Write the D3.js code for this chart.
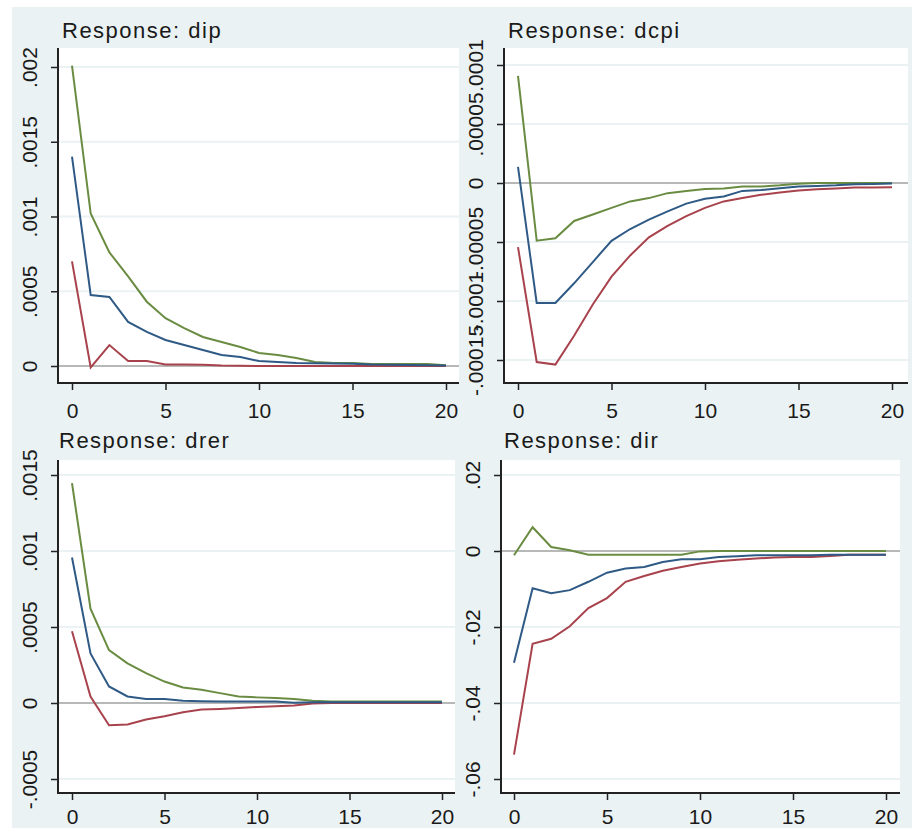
<!DOCTYPE html>
<html>
<head>
<meta charset="utf-8">
<script src="https://cdn.jsdelivr.net/npm/d3@7"></script>
<style>
  body { margin: 0; background: #fff; }
  svg { display: block; font-family: "Liberation Sans", Arial, sans-serif; }
</style>
</head>
<body>
<script>
// horizons 0..20
const steps = d3.range(0, 21);

// Response: dip
const dipUpper = [0.00201, 0.00102, 0.00076, 0.00060, 0.00043, 0.00032, 0.000254, 0.000194, 0.000161, 0.000127, 0.000087, 0.000074, 0.000054, 0.000027, 0.00002, 0.00002, 0.000013, 0.000013, 0.000013, 0.000013, 0.000005];
const dipIrf = [0.0014, 0.000475, 0.000462, 0.000295, 0.000228, 0.000174, 0.000141, 0.000107, 0.000074, 0.00006, 0.000033, 0.000027, 0.00002, 0.000018, 0.000016, 0.000015, 0.00001, 0.000008, 0.000006, 0.000005, 0.000004];
const dipLower = [0.0007, -0.00001, 0.00014, 0.000033, 0.000033, 0.00001, 0.00001, 0.000008, 0.000003, 0.000002, 0, 0, 0, 0, 0, 0, 0, 0, 0, 0, 0];

// Response: dcpi
const dcpiUpper = [0.0000908, -0.0000489, -0.0000469, -0.0000322, -0.0000267, -0.0000211, -0.0000156, -0.0000128, -0.0000086, -0.0000067, -0.000005, -0.0000047, -0.000003, -0.000003, -0.000002, -0.0000006, 0, 0, 0, 0, 0];
const dcpiIrf = [0.0000136, -0.0001017, -0.0001017, -0.000085, -0.000067, -0.000049, -0.000039, -0.000031, -0.000024, -0.0000175, -0.0000133, -0.0000114, -0.0000067, -0.000006, -0.0000044, -0.000003, -0.0000025, -0.000002, -0.0000011, -0.0000008, -0.0000005];
const dcpiLower = [-0.0000544, -0.0001517, -0.0001539, -0.0001294, -0.000103, -0.0000794, -0.0000614, -0.0000461, -0.0000364, -0.000028, -0.0000211, -0.0000156, -0.0000128, -0.00001, -0.000008, -0.0000064, -0.0000053, -0.0000047, -0.0000039, -0.0000038, -0.0000036];

// Response: drer
const drerUpper = [0.001446, 0.00062, 0.000348, 0.000261, 0.000196, 0.000141, 0.000102, 0.000087, 0.000065, 0.000043, 0.000037, 0.000033, 0.000026, 0.000015, 0.00001, 0.00001, 0.00001, 0.00001, 0.00001, 0.00001, 0.00001];
const drerIrf = [0.000957, 0.000326, 0.000109, 0.000043, 0.000026, 0.000026, 0.000015, 0.000012, 0.00001, 0.00001, 0.00001, 0.00001, 0.000002, 0.000005, 0.000005, 0.000005, 0.000005, 0.000005, 0.000005, 0.000005, 0.000005];
const drerLower = [0.000472, 0.000043, -0.000146, -0.000141, -0.000109, -0.000087, -0.000061, -0.000043, -0.000039, -0.000033, -0.000026, -0.000022, -0.000017, -0.000003, 0, 0, 0, 0, 0, 0, 0];

// Response: dir
const dirUpper = [-0.0011, 0.00626, 0.00104, 0.00017, -0.00096, -0.001, -0.001, -0.001, -0.001, -0.001, -0.0001, 0, 0, 0, 0, 0, 0, 0, 0, 0, 0];
const dirIrf = [-0.0294, -0.0098, -0.0111, -0.0103, -0.0081, -0.0057, -0.0046, -0.0042, -0.0029, -0.0022, -0.0022, -0.0016, -0.0014, -0.0011, -0.0011, -0.0011, -0.0011, -0.001, -0.001, -0.001, -0.001];
const dirLower = [-0.0536, -0.0244, -0.0231, -0.0198, -0.015, -0.0124, -0.0081, -0.0066, -0.0052, -0.0042, -0.0033, -0.0027, -0.0023, -0.002, -0.0017, -0.0016, -0.0016, -0.0013, -0.001, -0.001, -0.001];

// tick values / labels
const xTicks = [0, 5, 10, 15, 20];
const dipTicks = [0, 0.0005, 0.001, 0.0015, 0.002];
const dipLabels = ['0', '.0005', '.001', '.0015', '.002'];
const dcpiTicks = [-0.00015, -0.0001, -0.00005, 0, 0.00005, 0.0001];
const dcpiLabels = ['-.00015', '-.0001', '-.00005', '0', '.00005', '.0001'];
const drerTicks = [-0.0005, 0, 0.0005, 0.001, 0.0015];
const drerLabels = ['-.0005', '0', '.0005', '.001', '.0015'];
const dirTicks = [-0.06, -0.04, -0.02, 0, 0.02];
const dirLabels = ['-.06', '-.04', '-.02', '0', '.02'];

const W = 912, H = 828;
const colUpper = '#6a8c42', colIrf = '#2f5a86', colLower = '#a8434d';
const bg = '#eaf2f3';

const svg = d3.select('body').append('svg')
    .attr('width', W)
    .attr('height', H);

svg.append('rect')
    .attr('x', 12).attr('y', 7)
    .attr('width', W - 12).attr('height', H - 7)
    .attr('fill', bg);

const panels = [
  { title: 'Response: dip', upper: dipUpper, irf: dipIrf, lower: dipLower,
    ticks: dipTicks, labels: dipLabels, box: [58, 48, 459, 383],
    xr: [72, 446], yd: [0, 0.002], yr: [366, 67], tx: 62, ty: 38, lx: 20 },
  { title: 'Response: dcpi', upper: dcpiUpper, irf: dcpiIrf, lower: dcpiLower,
    ticks: dcpiTicks, labels: dcpiLabels, box: [504, 48, 908, 383],
    xr: [518, 892], yd: [0, 0.0001], yr: [183, 65], tx: 508, ty: 38, lx: 20 },
  { title: 'Response: drer', upper: drerUpper, irf: drerIrf, lower: drerLower,
    ticks: drerTicks, labels: drerLabels, box: [58, 460, 455, 793],
    xr: [72, 442], yd: [-0.0005, 0.0015], yr: [779, 475], tx: 59, ty: 448, lx: 16 },
  { title: 'Response: dir', upper: dirUpper, irf: dirIrf, lower: dirLower,
    ticks: dirTicks, labels: dirLabels, box: [501, 460, 900, 793],
    xr: [514, 886], yd: [-0.06, 0.02], yr: [779, 475], tx: 504, ty: 448, lx: 16 }
];

panels.forEach(p => {
  const [x0, y0, x1, y1] = p.box;
  const x = d3.scaleLinear().domain([0, 20]).range(p.xr);
  const y = d3.scaleLinear().domain(p.yd).range(p.yr);
  const g = svg.append('g');

  g.append('text')
      .attr('x', p.tx).attr('y', p.ty)
      .attr('font-size', 22)
      .attr('letter-spacing', 1.5)
      .attr('fill', '#1a1a1a')
      .text(p.title);

  g.append('rect')
      .attr('x', x0).attr('y', y0)
      .attr('width', x1 - x0).attr('height', y1 - y0)
      .attr('fill', '#fff');

  // grid
  g.append('g').selectAll('line')
      .data(p.ticks)
      .enter().append('line')
      .attr('x1', x0).attr('x2', x1)
      .attr('y1', d => y(d)).attr('y2', d => y(d))
      .attr('stroke', bg)
      .attr('stroke-width', 2);

  // zero line
  g.append('line')
      .attr('x1', x0).attr('x2', x1)
      .attr('y1', y(0)).attr('y2', y(0))
      .attr('stroke', '#a6a6a6')
      .attr('stroke-width', 1.5);

  const line = d3.line()
      .x((d, i) => x(steps[i]))
      .y(d => y(d));

  [[p.lower, colLower], [p.upper, colUpper], [p.irf, colIrf]].forEach(([vals, c]) => {
    g.append('path')
        .attr('d', line(vals))
        .attr('fill', 'none')
        .attr('stroke', c)
        .attr('stroke-width', 2);
  });

  // axes
  const yAxis = g.append('g')
      .attr('transform', `translate(${x0},0)`)
      .call(d3.axisLeft(y).tickValues(p.ticks).tickSize(7)
          .tickFormat((d, i) => p.labels[i]));
  yAxis.select('.domain').remove();
  yAxis.selectAll('.tick line').attr('stroke', '#222').attr('stroke-width', 1.5);
  yAxis.selectAll('.tick text')
      .attr('transform', 'rotate(-90)')
      .attr('x', 0).attr('y', -21).attr('dy', 0)
      .attr('text-anchor', 'middle')
      .attr('font-size', 21)
      .attr('fill', '#1a1a1a');

  const xAxis = g.append('g')
      .attr('transform', `translate(0,${y1})`)
      .call(d3.axisBottom(x).tickValues(xTicks).tickSize(7));
  xAxis.select('.domain').remove();
  xAxis.selectAll('.tick line').attr('stroke', '#222').attr('stroke-width', 1.5);
  xAxis.selectAll('.tick text')
      .attr('y', p.lx).attr('dy', '0.71em')
      .attr('font-size', 21)
      .attr('fill', '#1a1a1a');

  g.append('path')
      .attr('d', `M${x0},${y0}V${y1}H${x1}`)
      .attr('fill', 'none')
      .attr('stroke', '#222')
      .attr('stroke-width', 2);
});
</script>
</body>
</html>
